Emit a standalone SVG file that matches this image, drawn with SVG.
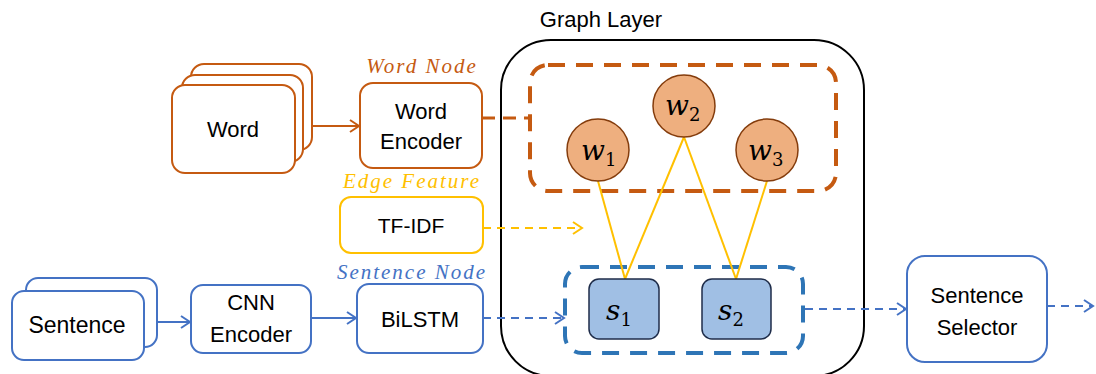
<svg xmlns="http://www.w3.org/2000/svg" width="1096" height="374" viewBox="0 0 1096 374">
  <defs>
    <style>
      .lbl { font-family: "Liberation Sans", Arial, sans-serif; font-size: 22px; fill: #000; text-anchor: middle; }
      .tag { font-family: "Liberation Serif", "Times New Roman", serif; font-style: italic; font-size: 21px; letter-spacing: 2px; text-anchor: middle; }
      .math { font-family: "DejaVu Serif", serif; font-style: italic; font-size: 28px; fill: #000; }
      .sub { font-family: "DejaVu Serif", serif; font-style: normal; font-size: 18px; }
      .orange { fill: #fff; stroke: #C55A11; stroke-width: 2; }
      .blue { fill: #fff; stroke: #4472C4; stroke-width: 2; }
      .yellow { fill: #fff; stroke: #FFC000; stroke-width: 2; }
      .word { fill: #EEAF7F; stroke: #843C0C; stroke-width: 1.5; }
      .sent { fill: #A0BFE4; stroke: #1F2D4A; stroke-width: 1.5; }
      .group-o { fill: none; stroke: #C55A11; stroke-width: 4; stroke-dasharray: 17 11; }
      .group-b { fill: none; stroke: #2E75B6; stroke-width: 4; stroke-dasharray: 17 11; }
      .edge { stroke: #FFC000; stroke-width: 2; fill: none; }
    </style>
    <marker id="arrO" markerWidth="12" markerHeight="14" refX="10" refY="7" orient="auto" markerUnits="userSpaceOnUse">
      <path d="M1,1 L10,7 L1,13" fill="none" stroke="#C55A11" stroke-width="2"/>
    </marker>
    <marker id="arrB" markerWidth="12" markerHeight="14" refX="10" refY="7" orient="auto" markerUnits="userSpaceOnUse">
      <path d="M1,1 L10,7 L1,13" fill="none" stroke="#4472C4" stroke-width="2"/>
    </marker>
    <marker id="arrY" markerWidth="12" markerHeight="14" refX="10" refY="7" orient="auto" markerUnits="userSpaceOnUse">
      <path d="M1,1 L10,7 L1,13" fill="none" stroke="#FFC000" stroke-width="2"/>
    </marker>
  </defs>

  <rect width="1096" height="374" fill="#fff"/>

  <!-- graph layer container -->
  <g id="graph-layer">
    <text class="lbl" x="601" y="27">Graph Layer</text>
    <rect x="501" y="40" width="363" height="336" rx="50" fill="none" stroke="#000" stroke-width="2"/>
    <rect class="group-o" x="530" y="65" width="306" height="126" rx="18"/>
    <rect class="group-b" x="565" y="267" width="238" height="86" rx="17"/>
  </g>

  <!-- connectors -->
  <g id="connectors">
    <line x1="295" y1="126" x2="359" y2="126" stroke="#C55A11" stroke-width="2" marker-end="url(#arrO)"/>
    <line x1="482" y1="118" x2="530" y2="118" stroke="#C55A11" stroke-width="3" stroke-dasharray="13 8"/>
    <line x1="483" y1="228" x2="582" y2="228" stroke="#FFC000" stroke-width="2" stroke-dasharray="8 6" marker-end="url(#arrY)"/>
    <line x1="142" y1="322" x2="190" y2="322" stroke="#4472C4" stroke-width="2" marker-end="url(#arrB)"/>
    <line x1="311" y1="318" x2="356" y2="318" stroke="#4472C4" stroke-width="2" marker-end="url(#arrB)"/>
    <line x1="483" y1="318" x2="564" y2="318" stroke="#4472C4" stroke-width="2" stroke-dasharray="8 6" marker-end="url(#arrB)"/>
    <line x1="805" y1="309" x2="906" y2="309" stroke="#4472C4" stroke-width="2" stroke-dasharray="8 6" marker-end="url(#arrB)"/>
    <line x1="1047" y1="306" x2="1093" y2="306" stroke="#4472C4" stroke-width="2" stroke-dasharray="8 6" marker-end="url(#arrB)"/>
    <!-- word-sentence edges -->
    <line class="edge" x1="598" y1="181" x2="625" y2="279"/>
    <line class="edge" x1="684" y1="137" x2="625" y2="279"/>
    <line class="edge" x1="684" y1="137" x2="736" y2="279"/>
    <line class="edge" x1="767" y1="181" x2="736" y2="279"/>
  </g>

  <!-- input words -->
  <g id="word-input">
    <rect class="orange" x="191" y="64" width="121" height="86" rx="13"/>
    <rect class="orange" x="182" y="75" width="121" height="87" rx="13"/>
    <rect class="orange" x="172" y="85" width="123" height="88" rx="13"/>
    <text class="lbl" x="233" y="137">Word</text>
  </g>

  <g id="word-encoder">
    <text class="tag" x="422" y="73" fill="#C55A11">Word Node</text>
    <rect class="orange" x="360" y="83" width="122" height="85" rx="13"/>
    <text class="lbl" x="421" y="119">Word</text>
    <text class="lbl" x="421" y="149">Encoder</text>
  </g>

  <g id="tf-idf">
    <text class="tag" x="412" y="188" fill="#FFC000">Edge Feature</text>
    <rect class="yellow" x="340" y="197" width="143" height="56" rx="11"/>
    <text class="lbl" x="411" y="233" style="font-size:21px">TF-IDF</text>
  </g>

  <!-- input sentences -->
  <g id="sentence-input">
    <rect class="blue" x="26" y="278" width="131" height="69" rx="12"/>
    <rect class="blue" x="12" y="291" width="132" height="69" rx="12"/>
    <text class="lbl" x="77" y="333" style="font-size:23px">Sentence</text>
  </g>

  <g id="cnn-encoder">
    <rect class="blue" x="191" y="285" width="120" height="68" rx="12"/>
    <text class="lbl" x="251" y="310">CNN</text>
    <text class="lbl" x="251" y="342">Encoder</text>
  </g>

  <g id="bilstm">
    <text class="tag" x="412" y="279" fill="#4472C4">Sentence Node</text>
    <rect class="blue" x="357" y="284" width="126" height="69" rx="12"/>
    <text class="lbl" x="420" y="327">BiLSTM</text>
  </g>

  <!-- word nodes -->
  <g id="w1">
    <circle class="word" cx="598" cy="150" r="31"/>
    <text class="math" x="581" y="160">w<tspan class="sub" dy="6">1</tspan></text>
  </g>
  <g id="w2">
    <circle class="word" cx="684" cy="106" r="31"/>
    <text class="math" x="665" y="115">w<tspan class="sub" dy="6">2</tspan></text>
  </g>
  <g id="w3">
    <circle class="word" cx="767" cy="150" r="31"/>
    <text class="math" x="748" y="160">w<tspan class="sub" dy="6">3</tspan></text>
  </g>

  <!-- sentence nodes -->
  <g id="s1">
    <rect class="sent" x="589" y="279" width="70" height="60" rx="10"/>
    <text class="math" x="606" y="320">s<tspan class="sub" dy="6">1</tspan></text>
  </g>
  <g id="s2">
    <rect class="sent" x="702" y="279" width="69" height="60" rx="10"/>
    <text class="math" x="718" y="320">s<tspan class="sub" dy="6">2</tspan></text>
  </g>

  <g id="sentence-selector">
    <rect class="blue" x="907" y="256" width="140" height="106" rx="18"/>
    <text class="lbl" x="977" y="303">Sentence</text>
    <text class="lbl" x="977" y="335">Selector</text>
  </g>
</svg>
